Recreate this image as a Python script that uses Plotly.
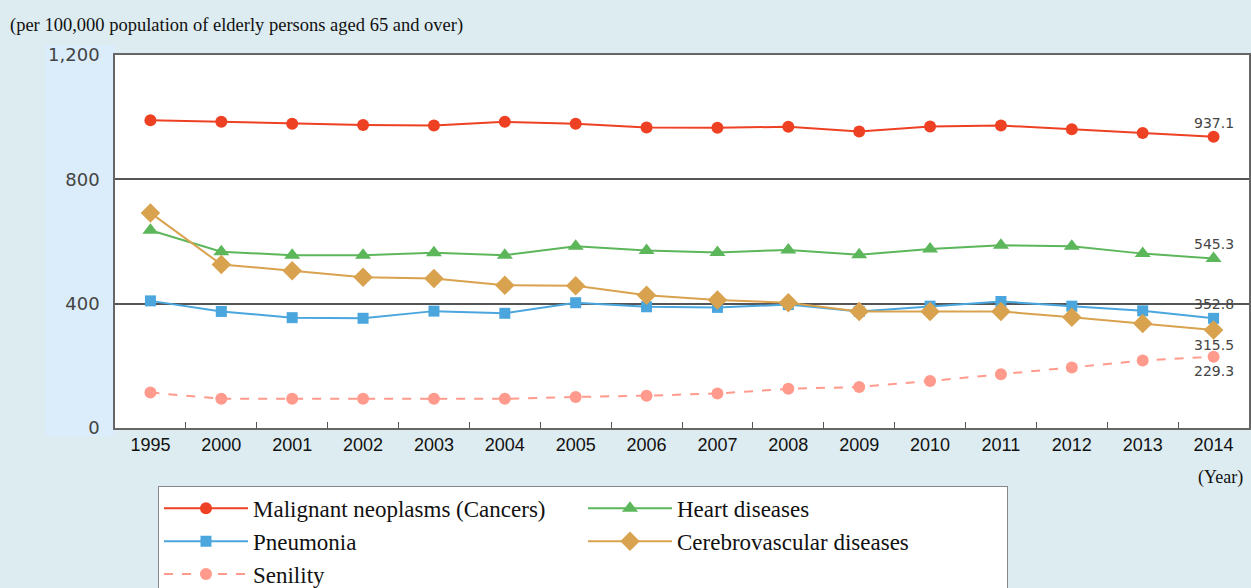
import plotly.graph_objects as go

years = ["1995", "2000", "2001", "2002", "2003", "2004", "2005", "2006",
         "2007", "2008", "2009", "2010", "2011", "2012", "2013", "2014"]

cancers = [990, 985, 979, 975, 973, 985, 979, 967, 966, 969, 954, 970, 973, 961, 949, 937.1]
heart = [636, 567, 556, 556, 564, 556, 585, 571, 565, 573, 557, 576, 588, 585, 561, 545.3]
pneumonia = [409, 375, 355, 353, 376, 369, 403, 390, 388, 397, 375, 392, 407, 392, 377, 352.8]
cerebro = [692, 526, 506, 485, 481, 459, 458, 427, 412, 403, 375, 375, 375, 356, 336, 315.5]
senility = [114, 94, 94, 94, 94, 94, 100, 104, 111, 126, 132, 151, 173, 195, 217, 229.3]

y_ticks = [0, 400, 800, 1200]

series = [
    ("Malignant neoplasms (Cancers)", cancers, "#EE4123", "circle", 12, "solid"),
    ("Heart diseases", heart, "#5CB65A", "triangle-up", 14, "solid"),
    ("Pneumonia", pneumonia, "#4AA6DD", "square", 11, "solid"),
    ("Cerebrovascular diseases", cerebro, "#D9A24E", "diamond", 15, "solid"),
    ("Senility", senility, "#FF9A8C", "circle", 12, "dash"),
]

fig = go.Figure()
for name, vals, color, sym, size, dash in series:
    fig.add_trace(go.Scatter(
        x=years, y=vals, name=name, mode="lines+markers",
        line=dict(color=color, width=2, dash=dash),
        marker=dict(symbol=sym, size=size, color=color),
        cliponaxis=False,
    ))

# value labels for the final year (category index of the last year)
last_i = len(years) - 1
label_font = dict(family="DejaVu Sans", size=14, color="#444")
fig.add_annotation(x=last_i, y=cancers[-1], text=f"{cancers[-1]:.1f}", showarrow=False,
                   yshift=14, font=label_font)
fig.add_annotation(x=last_i, y=heart[-1], text=f"{heart[-1]:.1f}", showarrow=False,
                   yshift=15, font=label_font)
fig.add_annotation(x=last_i, y=400, text=f"{pneumonia[-1]:.1f}", showarrow=False,
                   font=label_font)
fig.add_annotation(x=last_i, y=cerebro[-1], text=f"{cerebro[-1]:.1f}", showarrow=False,
                   yshift=-15, font=label_font)
fig.add_annotation(x=last_i, y=senility[-1], text=f"{senility[-1]:.1f}", showarrow=False,
                   yshift=-14, font=label_font)

# unit note and axis caption
fig.add_annotation(xref="paper", yref="paper", x=-0.0944, y=1.0803, xanchor="left",
                   yanchor="middle", showarrow=False,
                   text="(per 100,000 population of elderly persons aged 65 and over)",
                   font=dict(family="Liberation Serif", size=18.5, color="#111"))
fig.add_annotation(xref="paper", yref="paper", x=0.9965, y=-0.1325, xanchor="right",
                   yanchor="middle", showarrow=False, text="(Year)",
                   font=dict(family="Liberation Serif", size=18, color="#111"))

# pale panel behind the value axis labels
fig.add_shape(type="rect", xref="paper", yref="paper", x0=-0.0617, x1=0,
              y0=-0.023, y1=1.027, fillcolor="#DBEDFA", line_width=0, layer="below")

fig.update_layout(
    width=1251, height=588,
    margin=dict(l=115, r=2, t=55, b=159.5, autoexpand=False),
    paper_bgcolor="#DDECF0",
    plot_bgcolor="white",
    showlegend=True,
    legend=dict(
        orientation="h", x=0.0379, y=-0.155, xanchor="left", yanchor="top",
        bgcolor="white", bordercolor="#888", borderwidth=1,
        font=dict(family="Liberation Serif", size=23, color="#111"),
        entrywidth=325, itemwidth=84, tracegroupgap=0,
    ),
    xaxis=dict(
        type="category", showgrid=False, showline=True, mirror=True,
        linecolor="#666", linewidth=1.5, ticks="inside", tickson="boundaries",
        ticklen=6, tickcolor="#555", tickwidth=1.2,
        tickfont=dict(family="Liberation Sans", size=18, color="#111"),
        range=[-0.5, 15.5], fixedrange=True,
    ),
    yaxis=dict(
        range=[0, 1200], tickvals=y_ticks, tickformat=",", showgrid=True,
        gridcolor="#555", gridwidth=1.5, zeroline=False, showline=True, mirror=True,
        linecolor="#666", linewidth=1.5, ticks="",
        tickfont=dict(family="DejaVu Sans", size=18, color="#444"), ticklabelstandoff=10,
    ),
)

fig.write_html("out.html")
